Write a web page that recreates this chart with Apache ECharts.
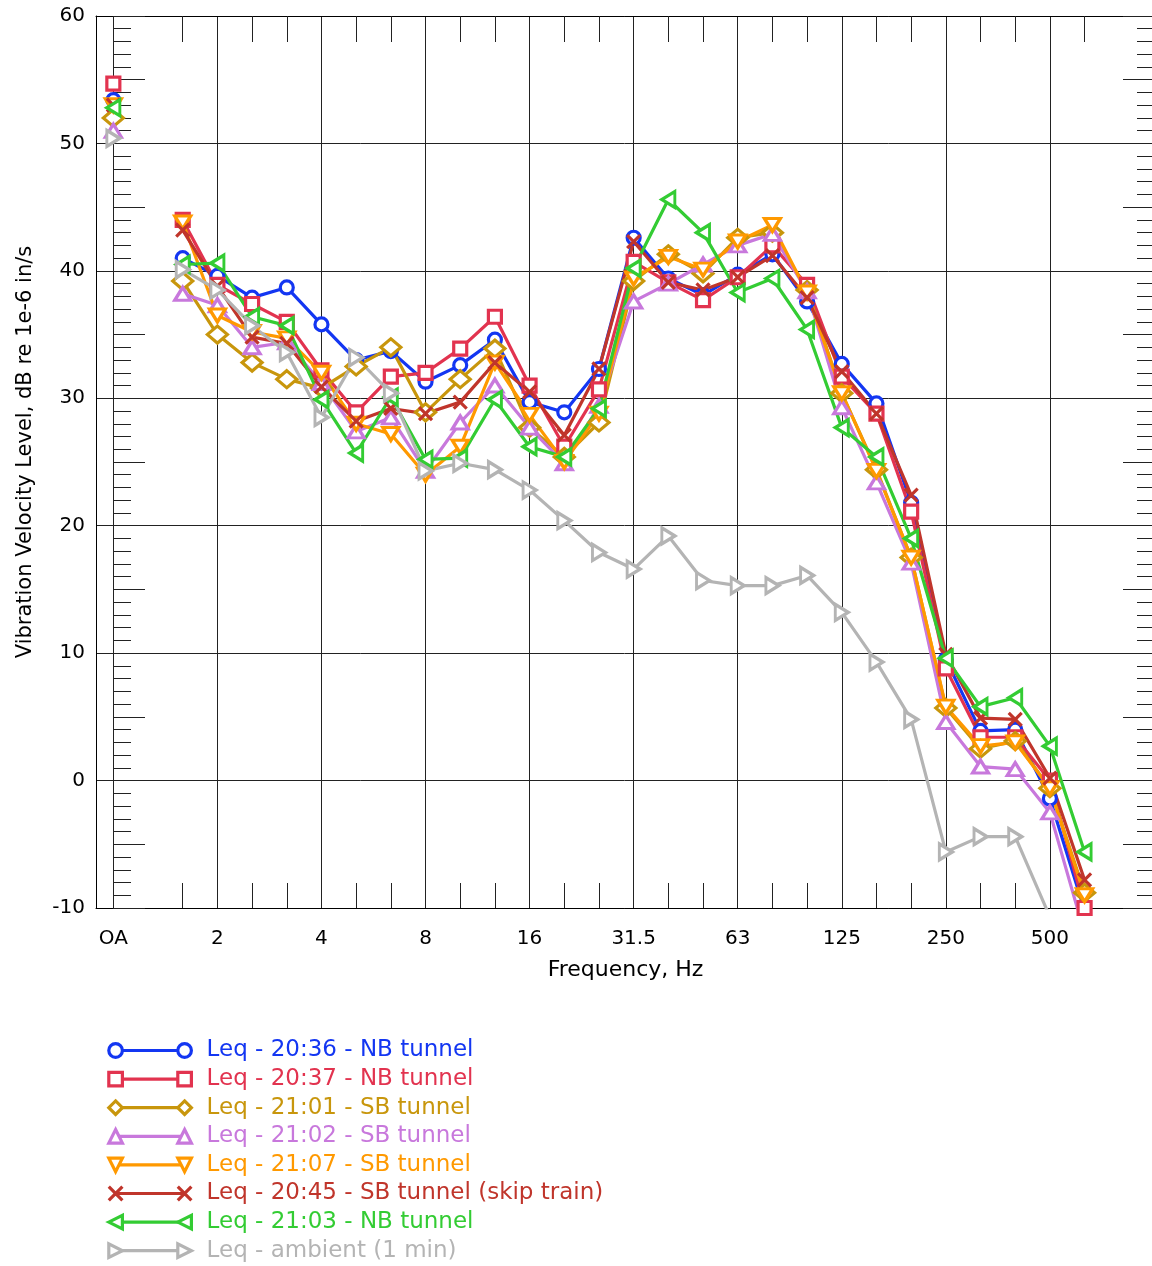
<!DOCTYPE html>
<html>
<head>
<meta charset="utf-8">
<script src="https://cdn.jsdelivr.net/npm/echarts@6.0.0/dist/echarts.min.js"></script>
<style>
  html, body { margin: 0; padding: 0; background: #fff; }
  #drew { width: 1152px; height: 1266px; }
</style>
</head>
<body>
<div id="drew"></div>
<script>
// 1/3 octave bands, OA first, 1.25 Hz slot left empty
var bands = ['OA', '', '1.6', '2', '2.5', '3.15', '4', '5', '6.3', '8', '10', '12.5', '16', '20', '25',
             '31.5', '40', '50', '63', '80', '100', '125', '160', '200', '250', '315', '400', '500', '630'];
var tickLabels = ['OA', '2', '4', '8', '16', '31.5', '63', '125', '250', '500'];

var names = [
  'Leq - 20:36 - NB tunnel',
  'Leq - 20:37 - NB tunnel',
  'Leq - 21:01 - SB tunnel',
  'Leq - 21:02 - SB tunnel',
  'Leq - 21:07 - SB tunnel',
  'Leq - 20:45 - SB tunnel (skip train)',
  'Leq - 21:03 - NB tunnel',
  'Leq - ambient (1 min)'
];

var nb2036 = [53.4, null, 41.0, 39.6, 37.9, 38.7, 35.8, 33.0, 33.7, 31.3, 32.6, 34.6, 29.7, 28.9, 32.3, 42.6, 39.4, 38.1, 39.7, 41.3, 37.6, 32.7, 29.6, 21.8, 9.5, 3.9, 4.0, -1.4, -10.2];
var nb2037 = [54.7, null, 44.0, 38.9, 37.4, 36.0, 32.2, 28.9, 31.7, 32.0, 33.9, 36.4, 31.0, 26.2, 30.7, 40.7, 39.1, 37.7, 39.5, 42.0, 38.9, 31.7, 28.8, 21.1, 8.8, 3.4, 3.4, 0.0, -10.0];
var sb2101 = [52.0, null, 39.2, 35.0, 32.8, 31.5, 30.8, 32.5, 34.0, 28.9, 31.5, 33.9, 27.7, 25.4, 28.1, 39.2, 41.3, 39.8, 42.6, 43.0, 38.5, 30.4, 24.4, 17.5, 5.7, 2.5, 3.1, -0.6, -8.8];
var sb2102 = [51.0, null, 38.2, 37.3, 34.0, 34.4, 31.2, 27.4, 28.5, 24.3, 28.1, 31.0, 27.7, 24.9, 29.4, 37.6, 39.0, 40.5, 42.0, 42.9, 38.4, 29.3, 23.4, 17.1, 4.6, 1.1, 0.9, -2.5, -12.0];
var sb2107 = [53.0, null, 43.8, 36.5, 35.2, 34.7, 32.0, 28.0, 27.2, 24.0, 26.2, 32.8, 28.7, 25.0, 28.8, 39.4, 41.1, 40.1, 42.3, 43.6, 38.3, 30.4, 24.3, 17.5, 5.8, 2.7, 3.0, -0.6, -9.0];
var sb2045 = [53.0, null, 43.2, 38.8, 34.8, 34.3, 30.9, 28.2, 29.2, 28.8, 29.7, 32.8, 30.5, 27.1, 32.3, 42.3, 39.1, 38.5, 39.5, 41.2, 37.9, 32.1, 28.8, 22.4, 9.9, 4.9, 4.8, 0.2, -7.8];
var nb2103 = [52.8, null, 40.5, 40.6, 36.4, 35.7, 29.9, 25.7, 30.1, 25.2, 25.3, 29.9, 26.2, 25.4, 29.2, 40.2, 45.6, 43.0, 38.3, 39.4, 35.4, 27.7, 25.4, 19.0, 9.6, 5.8, 6.5, 2.7, -5.6];
var ambient = [50.4, null, 40.1, 38.5, 35.7, 33.6, 28.5, 33.2, 30.4, 24.3, 24.9, 24.4, 22.8, 20.4, 17.9, 16.6, 19.2, 15.7, 15.3, 15.3, 16.1, 13.2, 9.3, 4.8, -5.6, -4.4, -4.4, -10.7, null];

var values = [nb2036, nb2037, sb2101, sb2102, sb2107, sb2045, nb2103, ambient];
var colors = ['#1336f2', '#e2334f', '#c8960c', '#c878dc', '#ff9900', '#c0352b', '#33cc33', '#b4b4b4'];
var symbols = ['circle', 'rect', 'diamond', 'triangle',
               'path://M0,0L14,0L7,12Z',
               'path://M0,0L10,10M10,0L0,10',
               'path://M0,7L12,0L12,14Z',
               'path://M12,7L0,0L0,14Z'];
var sizes = [13, 13, [20, 17], [16, 13], [16, 13], 13, [13, 16], [13, 16]];

var FONT = 'DejaVu Sans';
var LW = 3.2;

// x positions of labelled bands and of the other bands
var majorPos = tickLabels.map(function (t) { return bands.indexOf(t); });
var minorPos = [];
bands.forEach(function (b, i) {
  if (b !== '' && majorPos.indexOf(i) < 0) minorPos.push(i);
});

var X_MIN = -0.5, X_MAX = 30.03;

var series = values.map(function (arr, i) {
  return {
    type: 'line',
    name: names[i],
    xAxisIndex: 0,
    yAxisIndex: 0,
    data: arr.map(function (v, k) { return [k, v === null ? '-' : v]; }),
    symbol: symbols[i],
    symbolSize: sizes[i],
    showAllSymbol: true,
    connectNulls: false,
    clip: true,
    lineStyle: { color: colors[i], width: LW },
    itemStyle: { color: '#fff', borderColor: colors[i], borderWidth: LW },
    emphasis: { disabled: true }
  };
});

function legendData(withText) {
  return names.map(function (n, i) {
    return {
      name: n,
      itemStyle: { color: '#fff', borderColor: colors[i], borderWidth: LW },
      lineStyle: { color: colors[i], width: LW },
      textStyle: { color: withText ? colors[i] : 'rgba(0,0,0,0)' }
    };
  });
}

var legendCommon = {
  orient: 'vertical',
  top: 1039,
  padding: 0,
  itemHeight: 17,
  itemGap: 5.6,
  selectedMode: false,
  textStyle: { fontFamily: FONT, fontSize: 23, lineHeight: 23 }
};

var myChart = echarts.init(document.getElementById('drew'));
var option = {
  animation: false,
  backgroundColor: '#fff',
  textStyle: { fontFamily: FONT },
  grid: { left: 96, right: -3, top: 16, bottom: 358, containLabel: false, outerBoundsMode: 'none' },
  legend: [
    // connecting line
    Object.assign({}, legendCommon, { left: 114, itemWidth: 69, itemStyle: { opacity: 0 }, data: legendData(false) }),
    // left marker
    Object.assign({}, legendCommon, { left: 106, itemWidth: 16, lineStyle: { opacity: 0 }, data: legendData(false) }),
    // right marker + label
    Object.assign({}, legendCommon, { left: 166, itemWidth: 34, lineStyle: { opacity: 0 }, data: legendData(true) })
  ],
  xAxis: [{
    type: 'value', position: 'bottom', min: X_MIN, max: X_MAX,
    axisLine: { show: true, onZero: false, lineStyle: { color: '#000', width: 1 } },
    axisTick: { show: false, customValues: majorPos },
    axisLabel: {
      customValues: majorPos, margin: 21, fontSize: 20, color: '#000', fontFamily: FONT,
      formatter: function (v) { return bands[v]; }
    },
    splitLine: { show: true, lineStyle: { color: '#222', width: 1 } },
    name: 'Frequency, Hz', nameLocation: 'middle', nameGap: 51,
    nameTextStyle: { fontSize: 22, color: '#000', fontFamily: FONT }
  }, {
    type: 'value', position: 'bottom', min: X_MIN, max: X_MAX,
    axisLine: { show: false, onZero: false },
    axisTick: { show: true, inside: true, length: 25, customValues: minorPos, lineStyle: { color: '#222' } },
    axisLabel: { show: false },
    splitLine: { show: false }
  }, {
    type: 'value', position: 'top', min: X_MIN, max: X_MAX,
    axisLine: { show: true, onZero: false, lineStyle: { color: '#000', width: 1 } },
    axisTick: { show: true, inside: true, length: 26, customValues: minorPos, lineStyle: { color: '#222' } },
    axisLabel: { show: false },
    splitLine: { show: false }
  }],
  yAxis: [{
    type: 'value', position: 'left', min: -10, max: 60, interval: 10,
    axisLine: { show: true, onZero: false, lineStyle: { color: '#000', width: 1 } },
    axisTick: { show: false },
    axisLabel: { margin: 11, fontSize: 20, color: '#000', fontFamily: FONT },
    splitLine: { show: true, lineStyle: { color: '#222', width: 1 } },
    name: 'Vibration Velocity Level, dB re 1e-6 in/s', nameLocation: 'middle', nameGap: 60,
    nameTextStyle: { fontSize: 21, color: '#000', fontFamily: FONT, padding: [0, 0, 0, 20] }
  }, {
    // tick column at the OA position
    type: 'value', position: 'left', offset: -17, min: -10, max: 60, interval: 5,
    axisLine: { show: false, onZero: false },
    axisTick: { show: true, inside: true, length: 32, lineStyle: { color: '#222' } },
    minorTick: { show: true, splitNumber: 5, length: 18, lineStyle: { color: '#222' } },
    axisLabel: { show: false },
    splitLine: { show: false }
  }, {
    type: 'value', position: 'right', min: -10, max: 60, interval: 5,
    axisLine: { show: true, onZero: false, lineStyle: { color: '#000', width: 1 } },
    axisTick: { show: true, inside: true, length: 32, lineStyle: { color: '#222' } },
    minorTick: { show: true, splitNumber: 5, length: 18, lineStyle: { color: '#222' } },
    axisLabel: { show: false },
    splitLine: { show: false }
  }],
  series: series
};
myChart.setOption(option);
window.addEventListener('resize', function () { myChart.resize(); });
</script>
</body>
</html>
